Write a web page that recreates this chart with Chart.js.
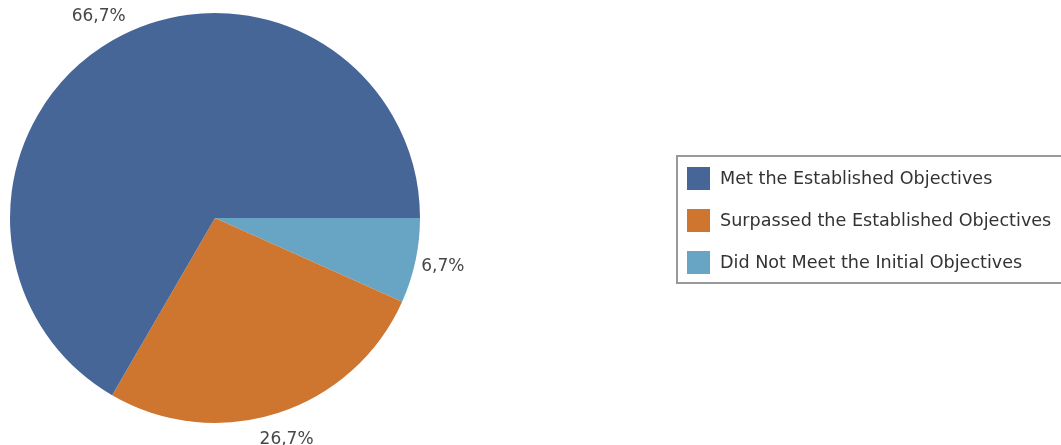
<!DOCTYPE html>
<html>
<head>
<meta charset="utf-8">
<script src="https://cdn.jsdelivr.net/npm/chart.js@4/dist/chart.umd.min.js"></script>
<style>
  html, body { margin: 0; padding: 0; background: #ffffff; }
  #wrap { width: 1061px; height: 445px; position: relative; }
</style>
</head>
<body>
<div id="wrap"><canvas id="c" width="1061" height="445"></canvas></div>
<script>
const categories = [
  'Met the Established Objectives',
  'Surpassed the Established Objectives',
  'Did Not Meet the Initial Objectives'
];
const values = [66.7, 26.7, 6.7];
const valueLabels = ['66,7%', '26,7%', '6,7%'];
const colors = ['#466698', '#CE7630', '#68A4C4'];

// The reference runs counter-clockwise from 3 o'clock; Chart.js runs clockwise,
// so the dataset order is reversed (legend keeps the original order).
const order = [2, 1, 0];

const outsideLabels = {
  id: 'outsideLabels',
  afterDatasetsDraw(chart) {
    const ctx = chart.ctx;
    const meta = chart.getDatasetMeta(0);
    ctx.save();
    ctx.font = '17px "DejaVu Sans", sans-serif';
    ctx.fillStyle = '#474747';
    ctx.textAlign = 'center';
    ctx.textBaseline = 'middle';
    meta.data.forEach((arc, i) => {
      const mid = (arc.startAngle + arc.endAngle) / 2;
      const r = arc.outerRadius + 28;
      ctx.fillText(chart.data.datasets[0].valueText[i], arc.x + Math.cos(mid) * r, arc.y + Math.sin(mid) * r);
    });
    ctx.restore();
  }
};

const boxLegend = {
  id: 'boxLegend',
  afterDraw(chart) {
    const ctx = chart.ctx;
    const x0 = 677, y0 = 156, w = 400, h = 127;
    ctx.save();
    ctx.strokeStyle = '#999999';
    ctx.lineWidth = 2;
    ctx.strokeRect(x0, y0, w, h);
    ctx.font = '17.6px "DejaVu Sans", sans-serif';
    ctx.textBaseline = 'middle';
    ctx.textAlign = 'left';
    categories.forEach((name, i) => {
      const cy = 178 + i * 42;
      ctx.fillStyle = colors[i];
      ctx.fillRect(687, cy - 11, 23, 23);
      ctx.fillStyle = '#333333';
      ctx.fillText(name, 720, cy + 1);
    });
    ctx.restore();
  }
};

new Chart(document.getElementById('c'), {
  type: 'pie',
  data: {
    labels: order.map(i => categories[i]),
    datasets: [{
      data: order.map(i => values[i]),
      valueText: order.map(i => valueLabels[i]),
      backgroundColor: order.map(i => colors[i]),
      borderWidth: 0
    }]
  },
  options: {
    responsive: false,
    animation: false,
    rotation: 90,
    layout: { padding: { left: 10, top: 13, right: 641, bottom: 22 } },
    plugins: {
      legend: { display: false },
      tooltip: { enabled: false }
    }
  },
  plugins: [outsideLabels, boxLegend]
});
</script>
</body>
</html>
